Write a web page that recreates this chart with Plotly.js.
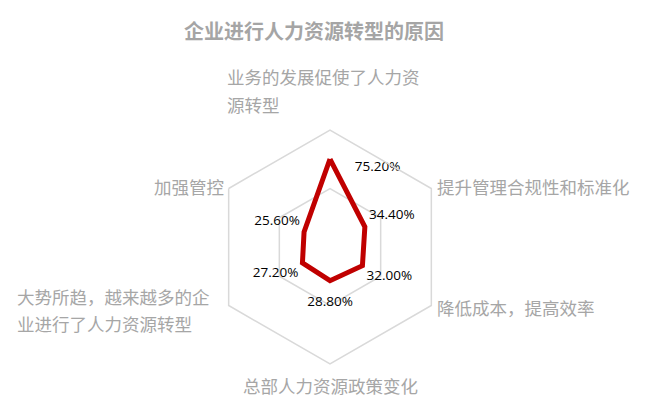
<!DOCTYPE html>
<html>
<head>
<meta charset="utf-8">
<script src="https://cdn.plot.ly/plotly-3.0.1.min.js"></script>
<style>
  html, body { margin: 0; padding: 0; background: #fff; }
  #chart { width: 650px; height: 414px; }
</style>
</head>
<body>
<div id="chart"></div>
<script>
// Reasons for HR transformation (share of companies)
var chartTitle = "企业进行人力资源转型的原因";

var categories = [
    "业务的发展促使了人力资源转型",
    "提升管理合规性和标准化",
    "降低成本，提高效率",
    "总部人力资源政策变化",
    "大势所趋，越来越多的企业进行了人力资源转型",
    "加强管控"
];

var values = [75.2, 34.4, 32.0, 28.8, 27.2, 25.6];

// Category labels as they wrap in the picture
var labelLines = [
    ["业务的发展促使了人力资", "源转型"],
    ["提升管理合规性和标准化"],
    ["降低成本，提高效率"],
    ["总部人力资源政策变化"],
    ["大势所趋，越来越多的企", "业进行了人力资源转型"],
    ["加强管控"]
];

var W = 650, H = 414;
var cjk = "'Noto Sans CJK SC', 'Noto Sans', sans-serif";
var gridColor = "#d9d9d9";
var labelColor = "#a6a6a6";

// Where each category label sits: [x px, y px of first line, anchor]
var labelSpots = [
    [225, 77, "left"],
    [435, 186, "left"],
    [435, 307, "left"],
    [330, 385, "center"],
    [15, 296, "left"],
    [226, 186, "right"]
];

// Build the annotations for the category labels, one per line
var annotations = [];
labelLines.forEach(function (lines, i) {
    var spot = labelSpots[i];
    lines.forEach(function (line, j) {
        annotations.push({
            xref: "paper",
            yref: "paper",
            x: spot[0] / W,
            y: 1 - (spot[1] + j * 27) / H,
            xanchor: spot[2],
            yanchor: "middle",
            text: line,
            showarrow: false,
            font: { family: cjk, size: 17.5, color: labelColor }
        });
    });
});

var r = values.map(function (v) { return v / 100; });

// The closed outline
var outline = {
    type: "scatterpolar",
    r: r.concat([r[0]]),
    theta: categories.concat([categories[0]]),
    mode: "lines",
    line: { color: "#c00000", width: 5 },
    hoverinfo: "skip",
    showlegend: false
};

// The data labels, invisible markers only push the text away
var labels = {
    type: "scatterpolar",
    r: r,
    theta: categories,
    mode: "markers+text",
    marker: { size: [38, 5, 5, 22, 5, 5], color: "rgba(0,0,0,0)", line: { width: 0 } },
    texttemplate: ["<br>%{r:.2%}", "%{r:.2%}", "%{r:.2%}", "%{r:.2%}", "%{r:.2%}", "%{r:.2%}"],
    textposition: ["middle right", "top right", "bottom right", "bottom center", "bottom left", "top left"],
    textfont: { family: "'Open Sans', sans-serif", size: 13.5, color: "#000" },
    hoverinfo: "skip",
    showlegend: false
};

var layout = {
    width: W,
    height: H,
    margin: { l: 0, r: 0, t: 0, b: 0 },
    paper_bgcolor: "#fff",
    title: {
        text: chartTitle,
        x: 314 / W,
        xanchor: "center",
        y: 1 - 32 / H,
        yanchor: "middle",
        font: { family: cjk, size: 20, color: "#a5a5a5", weight: "bold" }
    },
    polar: {
        domain: { x: [213 / W, 447 / W], y: [50 / H, 284 / H] },
        gridshape: "linear",
        bgcolor: "rgba(0,0,0,0)",
        radialaxis: {
            range: [0, 1],
            dtick: 0.5,
            showline: false,
            showticklabels: false,
            ticks: "",
            gridcolor: gridColor,
            gridwidth: 1.5
        },
        angularaxis: {
            direction: "clockwise",
            rotation: 90,
            showticklabels: false,
            ticks: "",
            showgrid: false,
            showline: true,
            linecolor: gridColor,
            linewidth: 1.5
        }
    },
    annotations: annotations
};

Plotly.newPlot("chart", [outline, labels], layout, { displayModeBar: false, staticPlot: true });
</script>
</body>
</html>
